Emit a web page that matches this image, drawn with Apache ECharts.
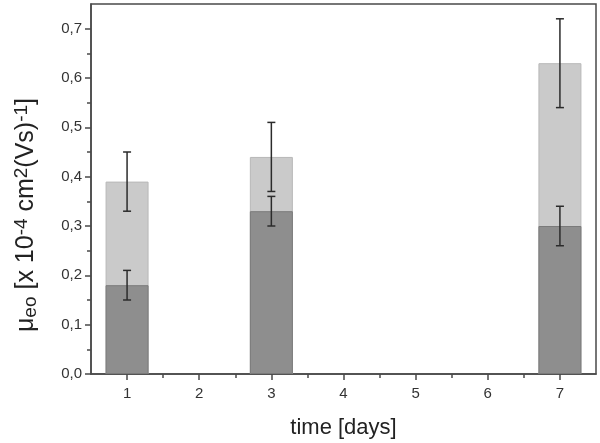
<!DOCTYPE html>
<html>
<head>
<meta charset="utf-8">
<script src="https://cdn.jsdelivr.net/npm/echarts@6/dist/echarts.min.js"></script>
<style>
  html, body { margin: 0; padding: 0; background: #fff; }
  #chart { width: 600px; height: 443px; }
</style>
</head>
<body>
<div id="chart"></div>
<script>
// days with measurements
var days = [1, 3, 7];
// light bars (upper) with error
var lightVal = [0.39, 0.44, 0.63];
var lightErr = [0.06, 0.07, 0.09];
// dark bars (lower) with error
var darkVal = [0.18, 0.33, 0.30];
var darkErr = [0.03, 0.03, 0.04];

var xTicks = [1, 2, 3, 4, 5, 6, 7];
var xMinor = [1.5, 2.5, 3.5, 4.5, 5.5, 6.5];
var yTicks = [0, 0.1, 0.2, 0.3, 0.4, 0.5, 0.6, 0.7];
var yMinor = [0.05, 0.15, 0.25, 0.35, 0.45, 0.55, 0.65];

var axisColor = '#4a4a4a';
var font = 'Liberation Sans, Arial, sans-serif';

function pairs(xs, ys) {
    return xs.map(function (x, i) { return [x, ys[i]]; });
}
function errData(xs, ys, es) {
    return xs.map(function (x, i) { return [x, ys[i] - es[i], ys[i] + es[i]]; });
}

function errorBar(params, api) {
    var x = api.value(0);
    var lo = api.coord([x, api.value(1)]);
    var hi = api.coord([x, api.value(2)]);
    var w = 4;
    var st = { stroke: '#2b2b2b', lineWidth: 1.5 };
    return {
        type: 'group',
        children: [
            { type: 'line', shape: { x1: hi[0], y1: hi[1], x2: lo[0], y2: lo[1] }, style: st },
            { type: 'line', shape: { x1: hi[0] - w, y1: hi[1], x2: hi[0] + w, y2: hi[1] }, style: st },
            { type: 'line', shape: { x1: lo[0] - w, y1: lo[1], x2: lo[0] + w, y2: lo[1] }, style: st }
        ]
    };
}

var chart = echarts.init(document.getElementById('chart'));
var option = {
    animation: false,
    grid: {
        left: 91, right: 4, top: 4, bottom: 69,
        outerBoundsMode: 'none',
        show: true, borderColor: axisColor, borderWidth: 1.5
    },
    xAxis: [{
        type: 'value', min: 0.5, max: 7.5,
        splitLine: { show: false },
        axisLine: { lineStyle: { color: axisColor, width: 1.5 } },
        axisTick: { customValues: xTicks, length: 6, lineStyle: { color: axisColor, width: 1.5 } },
        axisLabel: { customValues: xTicks, color: '#333', fontSize: 15, fontFamily: font, margin: 12 },
        name: 'time [days]', nameLocation: 'middle', nameGap: 43,
        nameTextStyle: { color: '#222', fontSize: 22, fontFamily: font }
    }, {
        type: 'value', min: 0.5, max: 7.5, position: 'bottom',
        splitLine: { show: false },
        axisLine: { show: false },
        axisTick: { customValues: xMinor, length: 4, lineStyle: { color: axisColor, width: 1.5 } },
        axisLabel: { show: false }
    }],
    yAxis: [{
        type: 'value', min: 0, max: 0.75,
        splitLine: { show: false },
        axisLine: { show: true, lineStyle: { color: axisColor, width: 1.5 } },
        axisTick: { show: true, customValues: yTicks, length: 6, lineStyle: { color: axisColor, width: 1.5 } },
        axisLabel: {
            customValues: yTicks, color: '#333', fontSize: 15, fontFamily: font, margin: 9,
            formatter: function (v) { return v.toFixed(1).replace('.', ','); }
        }
    }, {
        type: 'value', min: 0, max: 0.75, position: 'left',
        splitLine: { show: false },
        axisLine: { show: false },
        axisTick: { show: true, customValues: yMinor, length: 4, lineStyle: { color: axisColor, width: 1.5 } },
        axisLabel: { show: false }
    }],
    graphic: [{
        type: 'text',
        x: 26, y: 215,
        rotation: Math.PI / 2,
        style: {
            text: 'μ{sub|eo} [x 10{sup|-4} cm{sup|2}(Vs){sup|-1}]',
            rich: {
                sub: { fontSize: 19, fontFamily: font, fill: '#222', verticalAlign: 'bottom', padding: [9, 0, 0, 0] },
                sup: { fontSize: 19, fontFamily: font, fill: '#222', verticalAlign: 'top', padding: [0, 0, 9, 0] }
            },
            fontSize: 25, fontFamily: font, fill: '#222',
            align: 'center', verticalAlign: 'middle'
        }
    }],
    series: [{
        type: 'bar', data: pairs(days, lightVal),
        barWidth: 43, barGap: '-100%',
        itemStyle: { color: '#cacaca', borderColor: '#b8b8b8', borderWidth: 1 }
    }, {
        type: 'bar', data: pairs(days, darkVal),
        barWidth: 43, barGap: '-100%',
        itemStyle: { color: '#8e8e8e', borderColor: '#7a7a7a', borderWidth: 1 }
    }, {
        type: 'custom', renderItem: errorBar,
        data: errData(days, lightVal, lightErr),
        encode: { x: 0, y: [1, 2] }, z: 5
    }, {
        type: 'custom', renderItem: errorBar,
        data: errData(days, darkVal, darkErr),
        encode: { x: 0, y: [1, 2] }, z: 5
    }]
};
chart.setOption(option);
</script>
</body>
</html>
